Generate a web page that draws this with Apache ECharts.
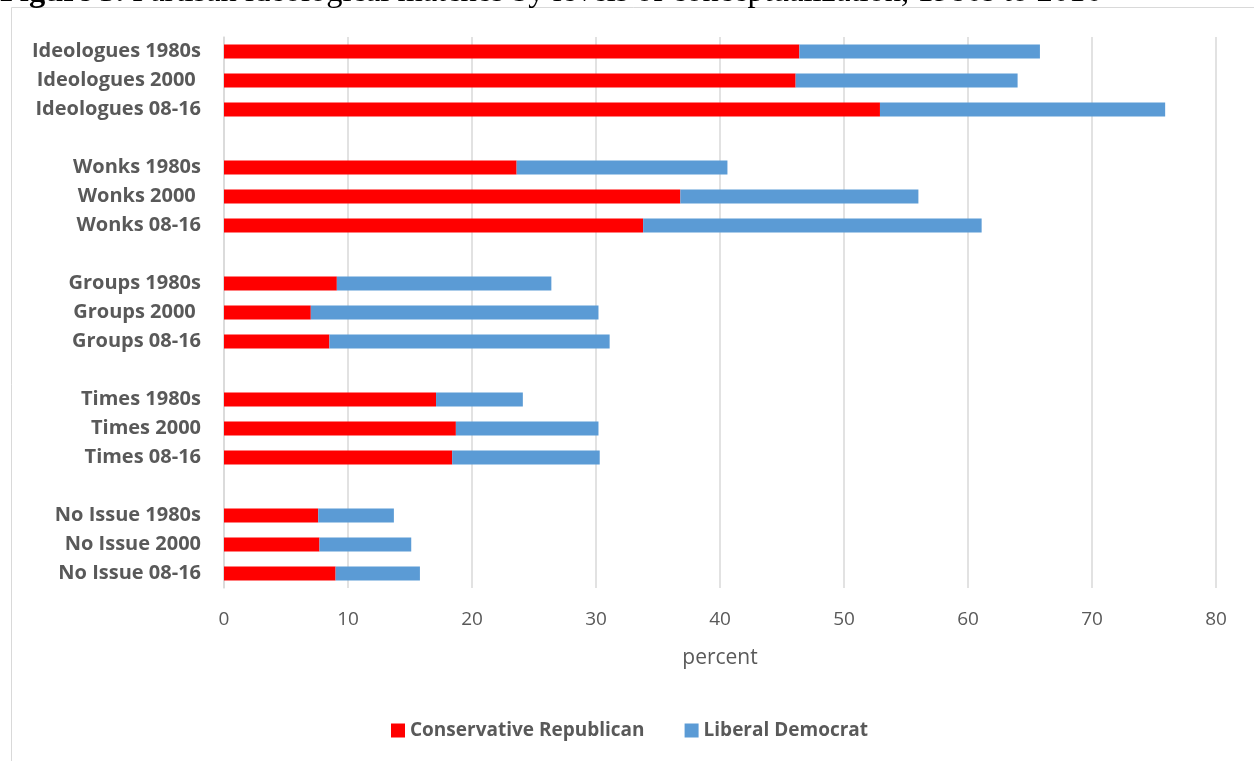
<!DOCTYPE html>
<html>
<head>
<meta charset="utf-8">
<script src="https://cdn.jsdelivr.net/npm/echarts@6/dist/echarts.min.js"></script>
<style>
  html, body { margin: 0; padding: 0; background: #fff; }
  #chart { width: 1254px; height: 761px; }
</style>
</head>
<body>
<div id="chart"></div>
<script>
// Row labels, top to bottom; blank entries are spacer rows between groups
const categories = [
  'Ideologues 1980s', 'Ideologues 2000 ', 'Ideologues 08-16', ' ',
  'Wonks 1980s', 'Wonks 2000 ', 'Wonks 08-16', '  ',
  'Groups 1980s', 'Groups 2000 ', 'Groups 08-16', '   ',
  'Times 1980s', 'Times 2000', 'Times 08-16', '    ',
  'No Issue 1980s', 'No Issue 2000', 'No Issue 08-16'
];

// Percent with a partisan ideological match
const conservativeRepublican = [
  46.4, 46.1, 52.9, null,
  23.6, 36.8, 33.8, null,
  9.1, 7.0, 8.5, null,
  17.1, 18.7, 18.4, null,
  7.6, 7.7, 9.0
];
const liberalDemocrat = [
  19.4, 17.9, 23.0, null,
  17.0, 19.2, 27.3, null,
  17.3, 23.2, 22.6, null,
  7.0, 11.5, 11.9, null,
  6.1, 7.4, 6.8
];

const xTicks = { min: 0, max: 80, interval: 10 };
const axisName = 'percent';
const seriesNames = ['Conservative Republican', 'Liberal Democrat'];
const titleBold = 'Figure 3.';
const titleRest = ' Partisan ideological matches by levels of conceptualization, 1980s to 2016';

const FONT = '"Open Sans", Lato, sans-serif';
const SERIF = '"Liberation Serif", "Times New Roman", serif';
const GREY = '#595959';

const chart = echarts.init(document.getElementById('chart'), null, { renderer: 'canvas' });

chart.setOption({
  animation: false,
  backgroundColor: '#fff',
  grid: { left: 224, right: 38, top: 37, height: 551, containLabel: false },
  xAxis: {
    type: 'value',
    min: xTicks.min, max: xTicks.max, interval: xTicks.interval,
    name: axisName,
    nameLocation: 'middle',
    nameGap: 60,
    nameTextStyle: { color: GREY, fontFamily: FONT, fontSize: 21 },
    axisLine: { show: false },
    axisTick: { show: false },
    axisLabel: { color: GREY, fontFamily: FONT, fontSize: 19, margin: 22 },
    splitLine: { show: true, lineStyle: { color: '#d9d9d9', width: 1.5 } }
  },
  yAxis: {
    type: 'category',
    data: categories,
    inverse: true,
    axisLine: { show: true, lineStyle: { color: '#d9d9d9', width: 1.5 } },
    axisTick: { show: false },
    axisLabel: { color: GREY, fontFamily: FONT, fontSize: 20, fontWeight: 'bold', margin: 23 }
  },
  legend: {
    left: 386,
    top: 716,
    itemWidth: 14,
    itemHeight: 14,
    itemGap: 40,
    icon: 'rect',
    textStyle: { color: GREY, fontFamily: FONT, fontSize: 19, fontWeight: 'bold' },
    data: seriesNames
  },
  series: [
    {
      name: seriesNames[0],
      type: 'bar',
      stack: 'total',
      barWidth: 14,
      itemStyle: { color: '#ff0000' },
      data: conservativeRepublican
    },
    {
      name: seriesNames[1],
      type: 'bar',
      stack: 'total',
      barWidth: 14,
      itemStyle: { color: '#5b9bd5' },
      data: liberalDemocrat
    }
  ],
  graphic: [
    {
      type: 'rect',
      silent: true,
      shape: { x: 11.5, y: 7.5, width: 1300, height: 800 },
      style: { fill: null, stroke: '#d9d9d9', lineWidth: 1 },
      z: -1
    },
    {
      type: 'text',
      silent: true,
      x: 0,
      y: -24,
      style: {
        text: '{b|' + titleBold + '}{r|' + titleRest + '}',
        rich: {
          b: { fontFamily: SERIF, fontSize: 32.5, fontWeight: 'bold', fill: '#000' },
          r: { fontFamily: SERIF, fontSize: 32.5, fill: '#000' }
        }
      }
    }
  ]
});
</script>
</body>
</html>
